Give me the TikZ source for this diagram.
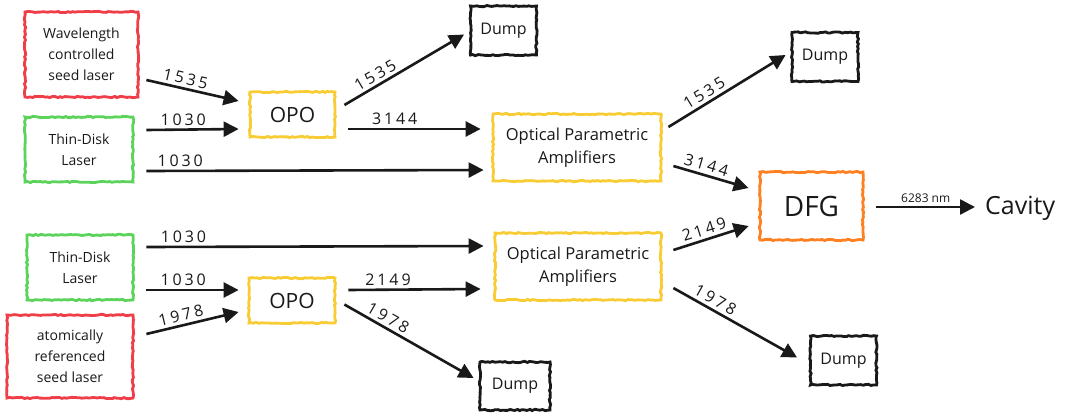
\documentclass[tikz,border=0pt]{standalone}
\usepackage{fontspec}
\setmainfont{Open Sans}
\usetikzlibrary{arrows.meta,calc,decorations.pathmorphing}
\definecolor{cred}{RGB}{240,62,72}
\definecolor{cgreen}{RGB}{92,212,92}
\definecolor{cyellow}{RGB}{248,204,52}
\definecolor{corange}{RGB}{255,128,32}
\definecolor{cdark}{RGB}{25,25,25}
\tikzset{
  sketch/.style={draw=#1, line width=2.8pt, decorate,
    decoration={random steps,segment length=2.5pt,amplitude=0.7pt},
    align=center, inner sep=0pt, text=cdark, font=\fontsize{14}{21}\selectfont},
  laserbox/.style={sketch=#1},
  dumpbox/.style={sketch=cdark, minimum width=66pt, minimum height=49pt, font=\fontsize{16}{18}\selectfont},
  oabox/.style={sketch=cyellow, font=\fontsize{16.5}{23}\selectfont},
  opobox/.style={sketch=cyellow, font=\fontsize{21}{24}\selectfont},
  beam/.style={line width=2.6pt, cdark, -{Triangle[length=15pt,width=15pt]}},
  lbl/.style={font=\fontsize{16}{18}\selectfont\addfontfeature{LetterSpace=18}, inner sep=3pt, text=cdark},
}
\begin{document}
\pgfmathsetseed{42}
\begin{tikzpicture}[x=1pt,y=-1pt]
\useasboundingbox (0,0) rectangle (1069,413);
% nodes
\node[laserbox=cred, minimum width=113pt, minimum height=85pt] (seed1) at (81.5,54.5) {Wavelength\\controlled\\seed laser};
\node[laserbox=cgreen, minimum width=108pt, minimum height=65pt] (tdl1) at (79,149.5) {Thin-Disk\\Laser};
\node[opobox, minimum width=85pt, minimum height=45pt] (opo1) at (292.5,114.5) {OPO};
\node[dumpbox] (dump1) at (503.5,30.5) {Dump};
\node[oabox, minimum width=168pt, minimum height=67pt] (opa1) at (577,147.5) {Optical Parametric\\Amplifiers};
\node[dumpbox] (dump2) at (825,57) {Dump};
\node[sketch=corange, minimum width=103pt, minimum height=68pt, font=\fontsize{28}{30}\selectfont] (dfg) at (811.5,206) {DFG};
\node[font=\fontsize{25}{28}\selectfont, text=cdark, inner sep=0pt, anchor=west] (cav) at (985,208) {Cavity};
\node[laserbox=cgreen, minimum width=106pt, minimum height=65pt] (tdl2) at (80,267.5) {Thin-Disk\\Laser};
\node[laserbox=cred, minimum width=126pt, minimum height=83pt] (seed2) at (70,356.5) {atomically\\referenced\\seed laser};
\node[opobox, minimum width=86pt, minimum height=45pt] (opo2) at (292,300.5) {OPO};
\node[oabox, minimum width=166pt, minimum height=67pt] (opa2) at (578,266.5) {Optical Parametric\\Amplifiers};
\node[dumpbox, minimum width=70pt, minimum height=48pt] (dump3) at (515,386) {Dump};
\node[dumpbox] (dump4) at (843.5,360.5) {Dump};
% beams
\draw[beam] ($(seed1.east)+(7,25.5)$) -- node[lbl, above, sloped, pos=0.4] {1535} ($(opo1.west)+(-10,-13.5)$);
\draw[beam] ($(tdl1.east)+(12,-19.5)$) -- node[lbl, above, pos=0.4] {1030} ($(opo1.west)+(-10,14.5)$);
\draw[beam] ($(tdl1.east)+(12,21.5)$) -- node[lbl, above, pos=0.1] {1030} ($(opa1.west)+(-8,22.5)$);
\draw[beam] ($(opo1.east)+(8,-9.5)$) -- node[lbl, above, sloped, pos=0.3] {1535} ($(dump1.west)+(-5,4)$);
\draw[beam] ($(opo1.east)+(12,14.5)$) -- node[lbl, above, pos=0.35] {3144} ($(opa1.west)+(-11,-18.5)$);
\draw[beam] ($(opa1.east)+(6,-20.5)$) -- node[lbl, above, sloped, pos=0.35] {1535} ($(dump2.west)+(-5,-2)$);
\draw[beam] ($(opa1.east)+(11,18.5)$) -- node[lbl, above, sloped, pos=0.4] {3144} ($(dfg.west)+(-10,-18)$);
\draw[beam] ($(opa2.east)+(11,-16.5)$) -- node[lbl, above, sloped, pos=0.45] {2149} ($(dfg.west)+(-10,20)$);
\draw[beam] ($(opa2.east)+(11,21.5)$) -- node[lbl, above, sloped, pos=0.3] {1978} ($(dump4.west)+(-12,-3)$);
\draw[beam] ($(dfg.east)+(12,1)$) -- node[lbl, above, font=\fontsize{12}{14}\selectfont] {6283 nm} ($(cav.west)+(-10,-1)$);
\draw[beam] ($(tdl2.east)+(12,-20.5)$) -- node[lbl, above, pos=0.11] {1030} ($(opa2.west)+(-10,-20.5)$);
\draw[beam] ($(tdl2.east)+(12,22.5)$) -- node[lbl, above, pos=0.4] {1030} ($(opo2.west)+(-9,-10.5)$);
\draw[beam] ($(seed2.east)+(12,-22.5)$) -- node[lbl, above, sloped, pos=0.4] {1978} ($(opo2.west)+(-9,11.5)$);
\draw[beam] ($(opo2.east)+(12,-10.5)$) -- node[lbl, above, pos=0.3] {2149} ($(opa2.west)+(-13,22.5)$);
\draw[beam] ($(opo2.east)+(8,4)$) -- node[lbl, above, sloped, pos=0.3] {1978} ($(dump3.west)+(-5,-8)$);
\end{tikzpicture}
\end{document}
